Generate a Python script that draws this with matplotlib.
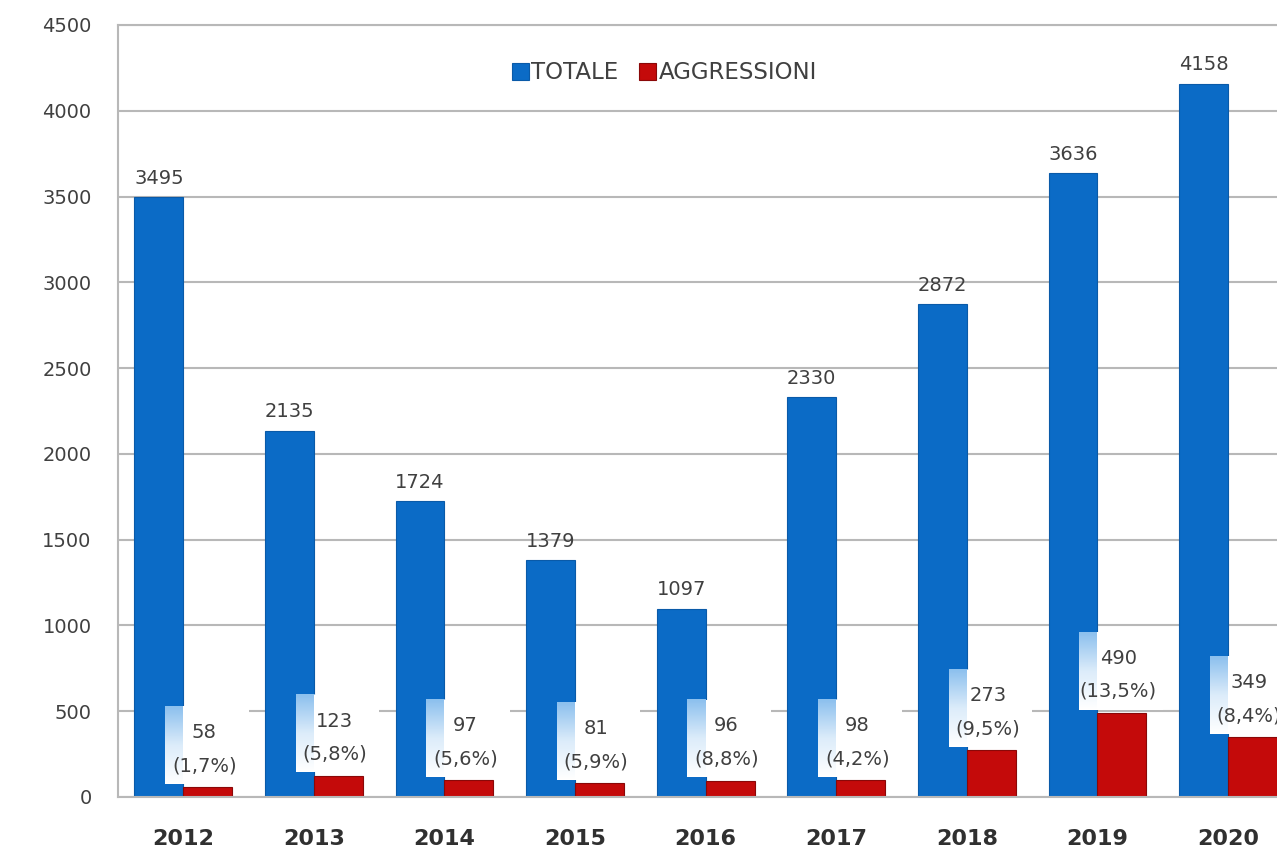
import numpy as np
import matplotlib.pyplot as plt
import matplotlib.patches as mp
from matplotlib.colors import LinearSegmentedColormap

years = ['2012', '2013', '2014', '2015', '2016', '2017', '2018', '2019', '2020']
totale = [3495, 2135, 1724, 1379, 1097, 2330, 2872, 3636, 4158]
aggressioni = [58, 123, 97, 81, 96, 98, 273, 490, 349]
perc = ['1,7%', '5,8%', '5,6%', '5,9%', '8,8%', '4,2%', '9,5%', '13,5%', '8,4%']

blue = '#0b6bc6'
red = '#c40a0a'
txt = '#404040'
w = 0.375
fs = 14

fig = plt.figure(figsize=(12.77, 8.56), dpi=100)
ax = fig.add_axes([118/1277, 59/856, 9*130.6/1277, 772/856])

x = np.arange(len(years))
ax.bar(x - w/2, totale, w, color=blue, edgecolor='#0a5aa8', linewidth=0.8, zorder=2, label='TOTALE')
ax.bar(x + w/2, aggressioni, w, color=red, edgecolor='#8a0808', linewidth=0.8, zorder=2, label='AGGRESSIONI')

for i, v in enumerate(totale):
    ax.text(i - w/2, v + 55, str(v), ha='center', va='bottom', fontsize=fs, color=txt, zorder=5)

# label boxes for the red bars (white box with blue glow on the left)
cmap = LinearSegmentedColormap.from_list('glow', ['#8cc0ee', '#dcecfa', '#ffffff'])
grad = np.linspace(0, 1, 60).reshape(-1, 1)
for i, (v, p) in enumerate(zip(aggressioni, perc)):
    bot = v + 20
    top = v + 470
    ax.imshow(grad, cmap=cmap, extent=[i - 0.14, i, bot, top], origin='upper',
              aspect='auto', zorder=3)
    ax.add_patch(mp.Rectangle((i, bot), 0.5, top - bot, facecolor='white',
                              edgecolor='none', zorder=3))
    ax.text(i + 0.16, v + 320, str(v), ha='center', va='center', fontsize=fs, color=txt, zorder=5)
    ax.text(i + 0.16, v + 125, '(' + p + ')', ha='center', va='center', fontsize=fs, color=txt, zorder=5)

ax.set_xlim(-0.5, len(years) - 0.5)
ax.set_ylim(0, 4500)
ax.set_yticks(np.arange(0, 4501, 500))
ax.set_xticks(x)
ax.set_xticklabels(years, fontsize=16, fontweight='bold', color='#303030')
ax.tick_params(axis='x', length=0, pad=23)
ax.tick_params(axis='y', length=0, pad=19, labelsize=fs, labelcolor=txt)
ax.yaxis.grid(True, color='#b8b8b8', linewidth=1.5, zorder=0)
ax.set_axisbelow(True)
for s in ['left', 'bottom', 'top']:
    ax.spines[s].set_color('#b8b8b8')
    ax.spines[s].set_linewidth(1.5)
ax.spines['right'].set_visible(False)

ax.legend(loc='center', bbox_to_anchor=(0.465, 0.938), ncol=2, frameon=False,
          fontsize=16.5, handlelength=0.75, handleheight=0.75, handletextpad=0.1,
          columnspacing=0.9, labelcolor=txt, borderpad=0)

fig.savefig('out.png', dpi=100)
